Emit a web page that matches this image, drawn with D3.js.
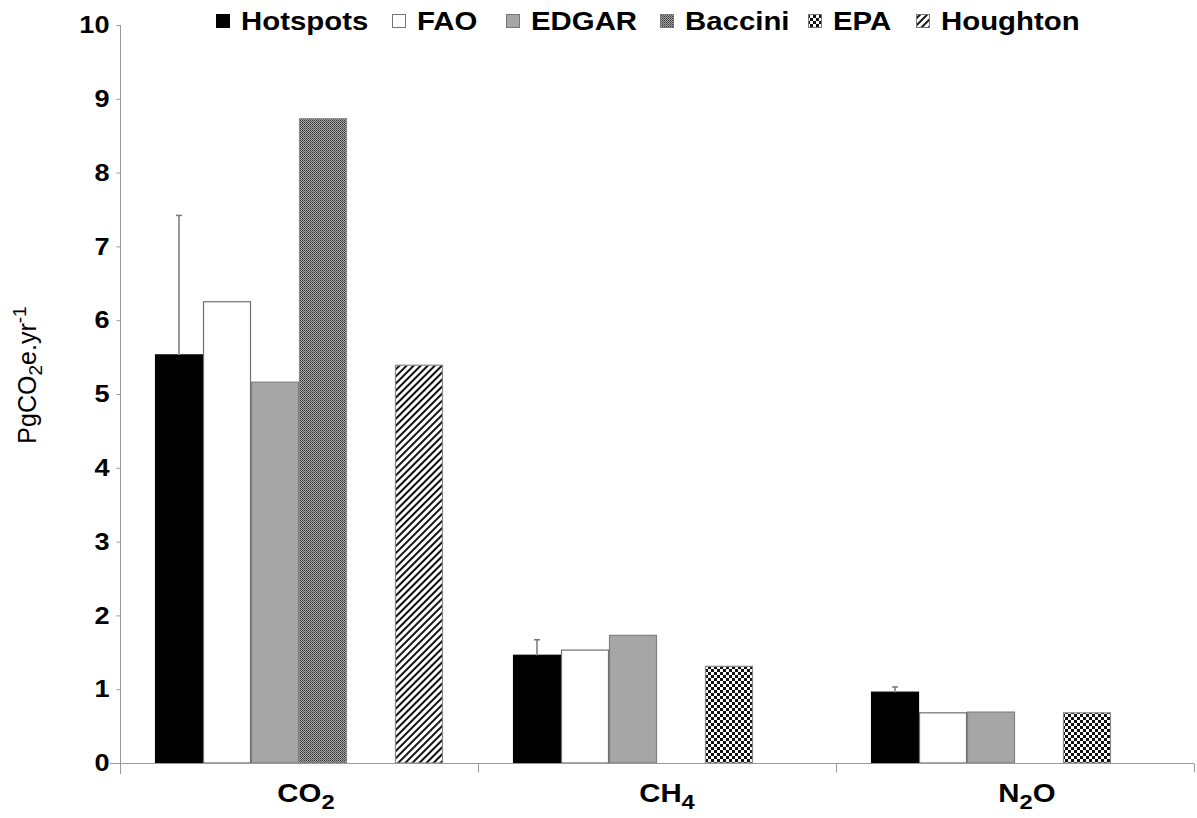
<!DOCTYPE html>
<html><head><meta charset="utf-8">
<script src="https://cdn.jsdelivr.net/npm/d3@7"></script>
<style>body{margin:0;background:#fff;} svg{display:block;font-family:"Liberation Sans",Arial,sans-serif;}</style>
</head><body>
<svg id="c" width="1197" height="818"></svg>
<script>
const categories = ["CO2", "CH4", "N2O"];
const series = ["Hotspots", "FAO", "EDGAR", "Baccini", "EPA", "Houghton"];
const hotspots = [5.53, 1.46, 0.96];
const hotspotsErr = [7.42, 1.67, 1.03];
const fao = [6.25, 1.53, 0.68];
const edgar = [5.16, 1.73, 0.69];
const baccini = [8.73, null, null];
const epa = [null, 1.31, 0.68];
const houghton = [5.39, null, null];
const yTicks = [0,1,2,3,4,5,6,7,8,9,10];

const values = [hotspots, fao, edgar, baccini, epa, houghton];
const svg = d3.select("#c");
const defs = svg.append("defs");
const SX = 1.13;

// Patterns
const pB = defs.append("pattern").attr("id","pBac").attr("patternUnits","userSpaceOnUse").attr("width",2).attr("height",2);
pB.append("rect").attr("width",2).attr("height",2).attr("fill","#a8a8a8");
pB.append("rect").attr("width",1).attr("height",1).attr("fill","#333");
pB.append("rect").attr("x",1).attr("y",1).attr("width",1).attr("height",1).attr("fill","#555");
const pE = defs.append("pattern").attr("id","pEpa").attr("patternUnits","userSpaceOnUse").attr("width",6).attr("height",6);
pE.append("rect").attr("width",6).attr("height",6).attr("fill","#fff");
pE.append("rect").attr("width",3).attr("height",3).attr("fill","#111");
pE.append("rect").attr("x",3).attr("y",3).attr("width",3).attr("height",3).attr("fill","#111");
const pH = defs.append("pattern").attr("id","pHou").attr("patternUnits","userSpaceOnUse").attr("width",5).attr("height",5)
  .attr("patternTransform","rotate(45)");
pH.append("rect").attr("width",5).attr("height",5).attr("fill","#fff");
pH.append("rect").attr("width",2).attr("height",5).attr("fill","#111");

const fills = ["#000", "#fff", "#a6a6a6", "url(#pBac)", "url(#pEpa)", "url(#pHou)"];
const strokes = ["#000", "#707070", "#808080", "#888", "#888", "#888"];

const x0 = d3.scaleBand().domain(categories).range([120, 1194]).paddingInner(0).paddingOuter(0);
const x1 = d3.scaleBand().domain(series).range([0, x0.bandwidth()]).paddingInner(0).paddingOuter(0.73);
const y = d3.scaleLinear().domain([0, 10]).range([763, 25]);

// bars
series.forEach((s, si) => {
  categories.forEach((c, ci) => {
    const v = values[si][ci];
    if (v == null) return;
    svg.append("rect")
      .attr("x", x0(c) + x1(s) + 0.5).attr("y", y(v))
      .attr("width", x1.bandwidth() - 1).attr("height", y(0) - y(v))
      .attr("fill", fills[si]).attr("stroke", strokes[si]).attr("stroke-width", 1.2);
  });
});
// error bars
categories.forEach((c, ci) => {
  const cx = x0(c) + x1("Hotspots") + x1.bandwidth()/2;
  svg.append("line").attr("x1",cx).attr("x2",cx).attr("y1",y(hotspots[ci])).attr("y2",y(hotspotsErr[ci]))
    .attr("stroke","#999").attr("stroke-width",2);
  svg.append("line").attr("x1",cx-3).attr("x2",cx+3).attr("y1",y(hotspotsErr[ci])).attr("y2",y(hotspotsErr[ci]))
    .attr("stroke","#777").attr("stroke-width",1.5);
});

// y axis
const yAxis = d3.axisLeft(y).tickValues(yTicks).tickSize(4).tickPadding(0).tickFormat(d3.format("d"));
const gy = svg.append("g").attr("transform","translate(120.5,0)").call(yAxis);
gy.select(".domain").attr("stroke","#999").attr("d","M0,25V774");
gy.selectAll(".tick line").attr("stroke","#999");
gy.selectAll(".tick text").attr("font-size",24).attr("font-weight","bold").attr("fill","#000")
  .attr("font-family","'Liberation Sans',Arial,sans-serif")
  .attr("x", null)
  .attr("transform", `translate(-11,0) scale(${SX},1)`);

// x axis
const gx = svg.append("g").attr("transform","translate(0,763.5)");
gx.append("line").attr("x1",110).attr("x2",1194).attr("stroke","#999").attr("stroke-width",1);
categories.forEach(c => {
  const xe = x0(c) + x0.bandwidth();
  gx.append("line").attr("x1",Math.round(xe)+0.5).attr("x2",Math.round(xe)+0.5).attr("y1",0).attr("y2",9).attr("stroke","#999");
});
const catLabels = [["CO","2",""],["CH","4",""],["N","2","O"]];
const catShift = [7, 10, 12];
categories.forEach((c, ci) => {
  const t = svg.append("text")
    .attr("transform", `translate(${x0(c) + x0.bandwidth()/2 + catShift[ci]},802) scale(${SX},1)`)
    .attr("text-anchor","middle").attr("font-size",26).attr("font-weight","bold");
  t.append("tspan").text(catLabels[ci][0]);
  t.append("tspan").attr("font-size",21).attr("dy",7).text(catLabels[ci][1]);
  if (catLabels[ci][2]) t.append("tspan").attr("dy",-7).text(catLabels[ci][2]);
});

// y label
const yl = svg.append("text").attr("transform","translate(36,375) rotate(-90)")
  .attr("text-anchor","middle").attr("font-size",25);
yl.append("tspan").text("PgCO");
yl.append("tspan").attr("font-size",19).attr("dy",6).text("2");
yl.append("tspan").attr("dy",-6).text("e.yr");
yl.append("tspan").attr("font-size",19).attr("dy",-10).text("-1");

// legend
const legX = [216, 392, 506, 660, 808, 916];
series.forEach((s, si) => {
  svg.append("rect").attr("x", legX[si]+0.5).attr("y", 14.5).attr("width", 13).attr("height", 13)
    .attr("fill", fills[si]).attr("stroke", si===0?"#000":"#777").attr("stroke-width",1);
  svg.append("text").attr("transform", `translate(${legX[si] + 25},30) scale(${SX},1)`)
    .attr("font-size", 26).attr("font-weight","bold").text(s);
});
</script>
</body></html>
